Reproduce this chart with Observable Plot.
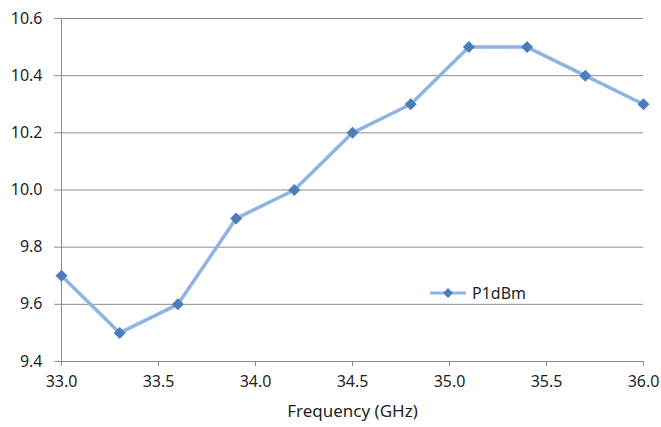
<!DOCTYPE html>
<html>
<head>
<meta charset="utf-8">
<script src="https://cdn.jsdelivr.net/npm/d3@7"></script>
<script src="https://cdn.jsdelivr.net/npm/@observablehq/plot@0.6"></script>
<style>
  html, body { margin: 0; padding: 0; background: #fff; }
  #wrap { position: relative; width: 661px; height: 427px; font-family: "Noto Sans", sans-serif; }
  #legend { position: absolute; left: 428px; top: 282px; display: flex; align-items: center; font-size: 16px; color: #1f1f1f; }
</style>
</head>
<body>
<div id="wrap">
  <div id="chart"></div>
  <div id="legend">
    <svg width="40" height="20"><line x1="2" x2="38" y1="10" y2="10" stroke="#8fb4e3" stroke-width="3"/><path d="M20,5L25,10L20,15L15,10Z" fill="#4a7ebb"/></svg>
    <span style="margin-left:4px">P1dBm</span>
  </div>
</div>
<script>
const seriesName = "P1dBm";
const frequency = [33.0, 33.3, 33.6, 33.9, 34.2, 34.5, 34.8, 35.1, 35.4, 35.7, 36.0];
const p1dbm = [9.7, 9.5, 9.6, 9.9, 10.0, 10.2, 10.3, 10.5, 10.5, 10.4, 10.3];
const xTicks = [33.0, 33.5, 34.0, 34.5, 35.0, 35.5, 36.0];
const yTicks = [9.4, 9.6, 9.8, 10.0, 10.2, 10.4, 10.6];
const xTitle = "Frequency (GHz)";

const data = frequency.map((f, i) => ({f, v: p1dbm[i]}));

const chart = Plot.plot({
  width: 661,
  height: 427,
  marginLeft: 61,
  marginRight: 18,
  marginTop: 18,
  marginBottom: 66,
  style: {fontFamily: "'Noto Sans', sans-serif", fontSize: "16px", color: "#1f1f1f", background: "#fff"},
  x: {domain: [33, 36]},
  y: {domain: [9.4, 10.6]},
  marks: [
    Plot.gridY(yTicks, {stroke: "#8c8c8c", strokeOpacity: 1, strokeWidth: 1}),
    Plot.axisY(yTicks, {tickSize: 7, tickPadding: 12, stroke: "#8c8c8c", tickFormat: d3.format(".1f"), label: null, fill: "#1f1f1f"}),
    Plot.axisX(xTicks, {tickSize: 5, tickPadding: 9, stroke: "#8c8c8c", tickFormat: d3.format(".1f"), label: null, fill: "#1f1f1f"}),
    Plot.ruleX([33], {stroke: "#8c8c8c"}),
    Plot.line(data, {x: "f", y: "v", stroke: "#8fb4e3", strokeWidth: 3.5}),
    Plot.dot(data, {x: "f", y: "v", symbol: "diamond2", r: 5.4, fill: "#4a7ebb", stroke: null}),
    Plot.text([xTitle], {frameAnchor: "bottom", dy: 55, text: d => d, fill: "#1f1f1f", fontSize: 17})
  ]
});
document.getElementById("chart").appendChild(chart);
</script>
</body>
</html>
